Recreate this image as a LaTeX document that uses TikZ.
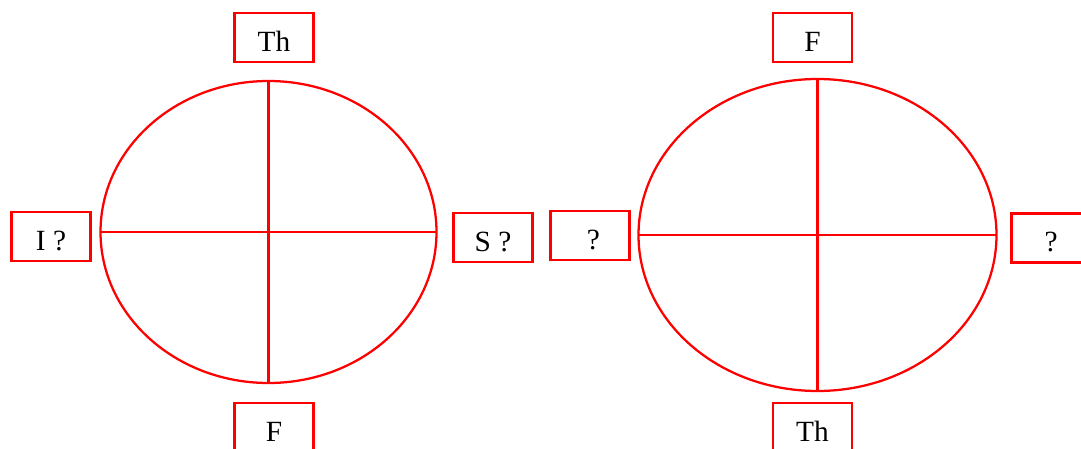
\documentclass[tikz,border=0pt]{standalone}
\usepackage{fontspec}
\setmainfont{Liberation Serif}
\usetikzlibrary{shapes.geometric}
\definecolor{WheelRed}{HTML}{FF0000}
\tikzset{
  every node/.style={font=\fontsize{22}{26}\selectfont, text=black},
  ring/.style={ellipse, draw=WheelRed, line width=1.7pt, inner sep=0pt, outer sep=0pt},
  tag/.style={rectangle, draw=WheelRed, line width=1.9pt, minimum width=59pt, minimum height=37pt, inner sep=0pt, text height=20.5pt, text depth=0pt},
  axis/.style={draw=WheelRed, line width=1.7pt},
}
\begin{document}
\begin{tikzpicture}[x=0.75pt,y=-0.75pt]
  \useasboundingbox (0,0) rectangle (1081,449);
  % Left wheel
  \node[ring, minimum width=252pt, minimum height=226.5pt] (ringL) at (268.5,232) {};
  \draw[axis] (ringL.north) -- (ringL.south);
  \draw[axis] (ringL.west) -- (ringL.east);
  \node[tag] (topL) at (274,37.5) {Th};
  \node[tag] (botL) at (274,427.5) {F};
  \node[tag] (leftL) at (51,236.5) {I ?\hspace{7pt}};
  \node[tag] (rightL) at (493,237.5) {S ?};
  % Right wheel
  \node[ring, minimum width=268.5pt, minimum height=234pt] (ringR) at (817.5,235) {};
  \draw[axis] (ringR.north) -- (ringR.south);
  \draw[axis] (ringR.west) -- (ringR.east);
  \node[tag] (topR) at (812.5,37.5) {F};
  \node[tag] (botR) at (812.5,427.5) {Th};
  \node[tag] (leftR) at (590,235.5) {\hspace{5pt}?};
  \node[tag] (rightR) at (1051,238) {?};
\end{tikzpicture}
\end{document}
